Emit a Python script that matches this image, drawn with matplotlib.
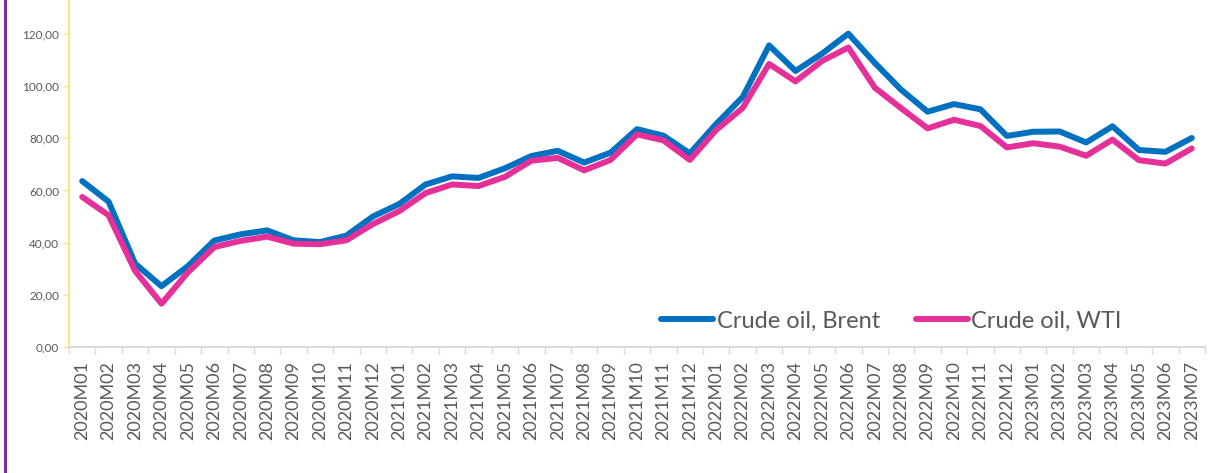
import matplotlib.pyplot as plt
from matplotlib.lines import Line2D

months = []
for yr in [2020, 2021, 2022, 2023]:
    for m in range(1, 13):
        if yr == 2023 and m > 7:
            break
        months.append(f"{yr}M{m:02d}")

brent = [63.6, 55.7, 32.0, 23.3, 31.0, 40.8, 43.2, 44.7, 40.9, 40.2, 42.7, 50.0,
         54.8, 62.3, 65.4, 64.8, 68.5, 73.2, 75.2, 70.7, 74.5, 83.5, 81.0, 74.2,
         85.5, 95.8, 115.6, 105.8, 112.4, 120.1, 108.9, 98.6, 90.2, 93.1, 91.1, 80.9,
         82.5, 82.6, 78.4, 84.6, 75.5, 74.8, 80.1]
wti = [57.5, 50.5, 29.2, 16.6, 28.6, 38.3, 40.7, 42.3, 39.6, 39.4, 40.9, 47.1,
       52.1, 59.0, 62.3, 61.7, 65.2, 71.4, 72.5, 67.7, 71.7, 81.5, 79.2, 71.7,
       83.2, 91.6, 108.5, 101.8, 109.6, 114.8, 99.4, 91.5, 83.8, 87.1, 84.7, 76.5,
       78.1, 76.8, 73.3, 79.5, 71.6, 70.3, 76.1]

blue = "#0070C0"
pink = "#E5309A"
grey = "#595959"

plt.rcParams['font.family'] = ['Lato', 'DejaVu Sans']

fig = plt.figure(figsize=(12.09, 4.73), dpi=100)
ax = fig.add_axes([69 / 1209, 126 / 473, 1136 / 1209, 347 / 473])

x = list(range(len(months)))
ax.plot(x, brent, color=blue, lw=4.3, solid_capstyle="round", solid_joinstyle="round",
        label="Crude oil, Brent")
ax.plot(x, wti, color=pink, lw=4.3, solid_capstyle="round", solid_joinstyle="round",
        label="Crude oil, WTI")

ax.set_xlim(-0.5, len(months) - 0.5)
ax.set_ylim(0, 133)
ax.set_yticks(range(0, 121, 20))
ax.set_yticklabels([f"{v},00" for v in range(0, 121, 20)], fontsize=8.5, color=grey)
ax.tick_params(axis="y", length=4, width=1, color="#FFE38A", pad=3)

ax.set_xticks(x)
ax.set_xticklabels(months, rotation=90, fontsize=13, color=grey)
ax.tick_params(axis="x", length=0, pad=10)
ax.set_xticks([i - 0.5 for i in range(len(months) + 1)], minor=True)
ax.tick_params(axis="x", which="minor", length=5, width=1, color="#D9D9D9")

for s in ["top", "right"]:
    ax.spines[s].set_visible(False)
ax.spines["left"].set_color("#FFE38A")
ax.spines["left"].set_linewidth(1.5)
ax.spines["bottom"].set_color("#D9D9D9")
ax.spines["bottom"].set_linewidth(1.5)

handles = [Line2D([0], [0], color=blue, lw=4.3, solid_capstyle="round"),
           Line2D([0], [0], color=pink, lw=4.3, solid_capstyle="round")]
leg = ax.legend(handles, ["Crude oil, Brent", "Crude oil, WTI"], ncol=2, frameon=False,
                fontsize=17, loc="center", bbox_to_anchor=(0.724, 0.075),
                handlelength=2.2, handletextpad=0.15, columnspacing=1.5, labelcolor=grey)

fig.add_artist(Line2D([5 / 1209, 5 / 1209], [0, 1], color="#7030A0", lw=2.2,
                      transform=fig.transFigure))

fig.savefig("out.png", dpi=100)
